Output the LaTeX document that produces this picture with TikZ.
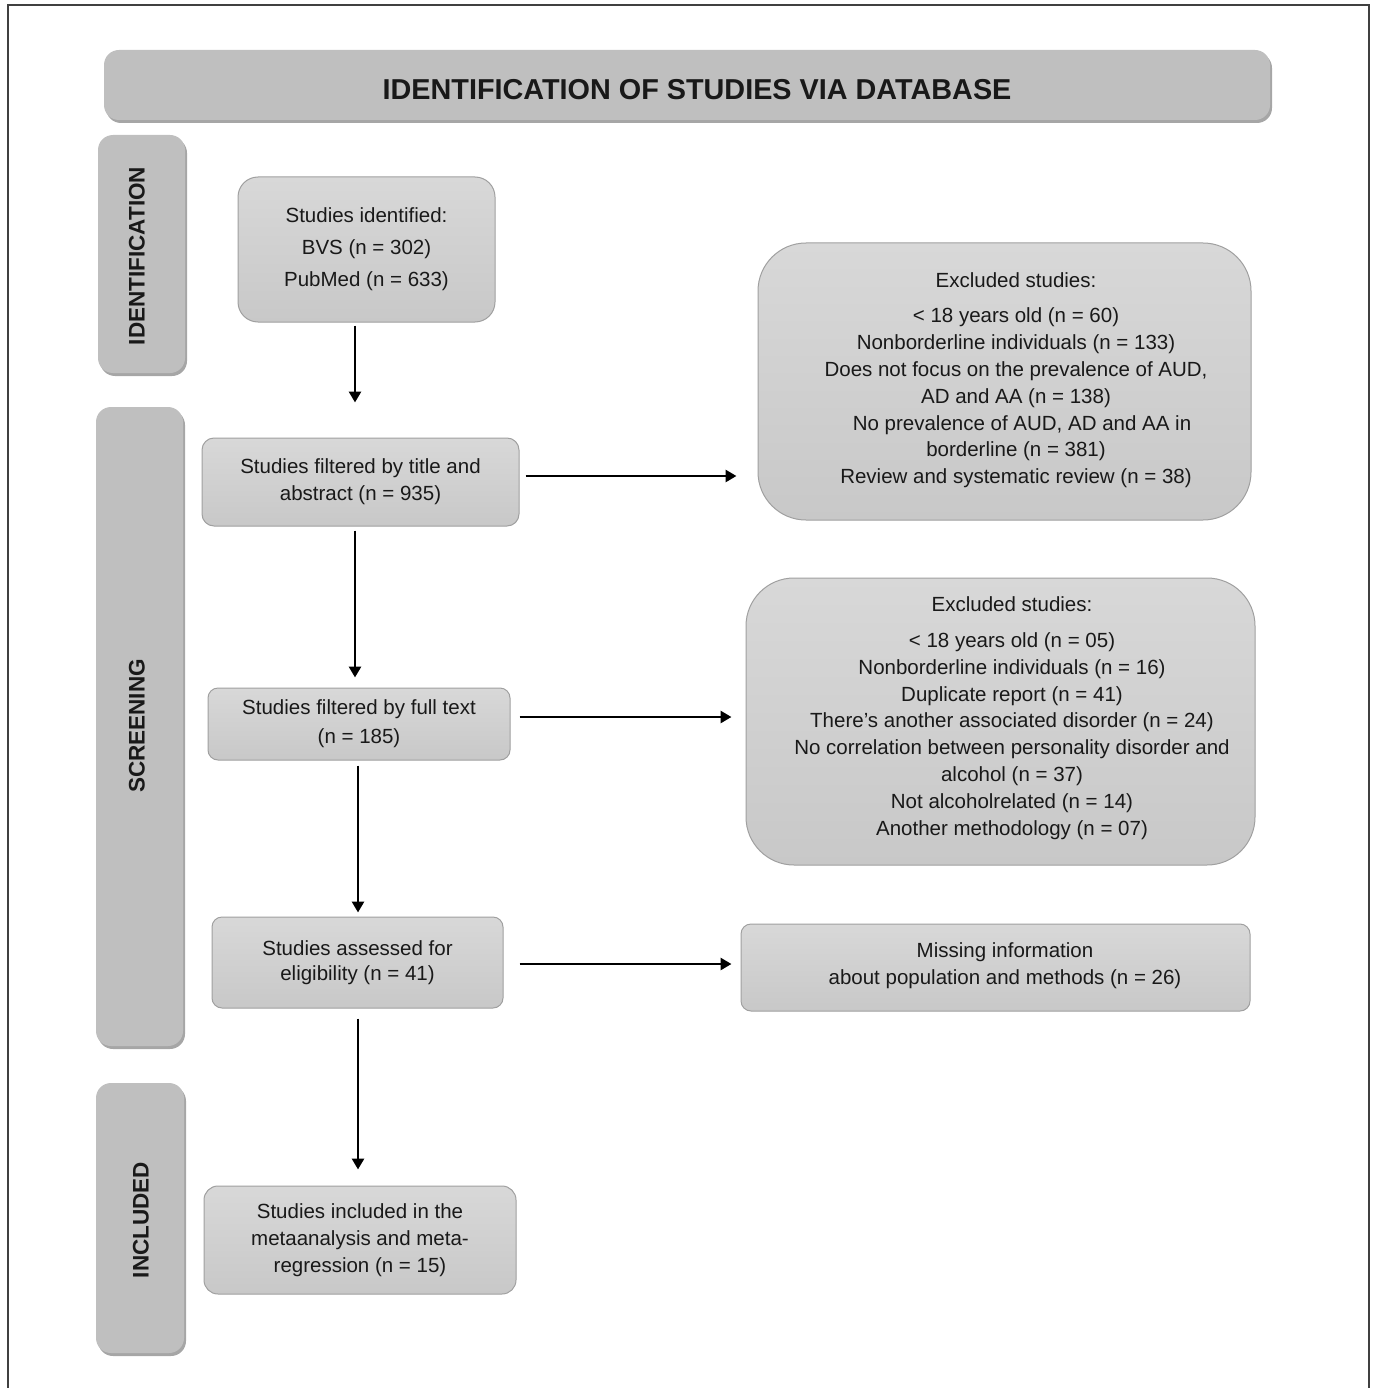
\documentclass[tikz,border=0pt]{standalone}
\usepackage{fontspec}
\setmainfont{Liberation Sans}
\usetikzlibrary{shadows,arrows.meta}
\definecolor{hdrgray}{RGB}{191,191,191}
\definecolor{boxtop}{RGB}{216,216,216}
\definecolor{boxbot}{RGB}{200,200,200}
\definecolor{boxline}{RGB}{160,160,160}
\definecolor{txt}{RGB}{25,25,25}
\tikzset{
  hdr/.style={fill=hdrgray, draw=none, rounded corners=15pt, inner sep=0pt,
    drop shadow={shadow xshift=2pt, shadow yshift=-3pt, opacity=0.35, fill=black}},
  sidelbl/.style={font=\fontsize{22.5}{26}\selectfont\bfseries, text=txt, rotate=90},
  cbox/.style={draw=boxline, line width=1pt, top color=boxtop, bottom color=boxbot,
    inner sep=0pt, align=center, text=txt, font=\fontsize{20.5}{27}\selectfont},
  arr/.style={line width=2.8pt, -{Triangle[length=11pt,width=12pt]}},
}
\begin{document}
\begin{tikzpicture}[x=1pt,y=-1pt]
\useasboundingbox (0,0) rectangle (1375,1388);
% outer frame
\draw[line width=1.5pt, black!75] (8,1388) -- (8,5) -- (1369,5) -- (1369,1388);

% header and side bars
\node[hdr, minimum width=1166pt, minimum height=70pt] (head) at (687,85) {};
\node[font=\fontsize{28.8}{32}\selectfont\bfseries, text=txt] (headt) at (697,90) {IDENTIFICATION OF STUDIES VIA DATABASE};

\node[hdr, minimum width=87pt, minimum height=238pt] (sid) at (141.5,254) {};
\node[sidelbl] (sidt) at (137,256) {IDENTIFICATION};
\node[hdr, minimum width=87pt, minimum height=639pt] (sscr) at (139.5,726.5) {};
\node[sidelbl] (sscrt) at (137,726) {SCREENING};
\node[hdr, minimum width=88pt, minimum height=270pt] (sinc) at (140,1218) {};
\node[sidelbl] (sinct) at (141,1220) {INCLUDED};

% main boxes
\node[cbox, rounded corners=20pt, minimum width=257pt, minimum height=145pt] (b1) at (366.5,249.5)
  {Studies identified:\\[5pt] BVS (n = 302)\\[5pt] PubMed (n = 633)};
\node[cbox, rounded corners=12pt, minimum width=317pt, minimum height=88pt] (b2) at (360.5,482)
  {Studies filtered by title and\\ abstract (n = 935)};
\node[cbox, rounded corners=10pt, minimum width=302pt, minimum height=72pt] (b3) at (359,724)
  {Studies filtered by full text\\[2pt] (n = 185)};
\node[cbox, rounded corners=10pt, minimum width=291pt, minimum height=91pt] (b4) at (357.5,962.5)
  {Studies assessed for\\[-2pt] eligibility (n = 41)};
\node[cbox, rounded corners=14pt, minimum width=312pt, minimum height=108pt] (b5) at (360,1240)
  {Studies included in the\\ metaanalysis and meta-\\ regression (n = 15)};

% excluded boxes
\node[cbox, rounded corners=48pt, minimum width=493pt, minimum height=277pt] (e1) at (1004.5,381.5) {};
\node[align=center, text=txt, font=\fontsize{20.5}{26.8}\selectfont] (e1t) at (1016,380)
  {Excluded studies:\\[9pt]
   {<} 18 years old (n = 60)\\
   Nonborderline individuals (n = 133)\\
   Does not focus on the prevalence of AUD,\\
   AD and AA (n = 138)\\
   \hspace*{12pt}No prevalence of AUD, AD and AA in\\
   borderline (n = 381)\\
   Review and systematic review (n = 38)};

\node[cbox, rounded corners=48pt, minimum width=509pt, minimum height=287pt] (e2) at (1000.5,721.5) {};
\node[align=center, text=txt, font=\fontsize{20.5}{26.8}\selectfont] (e2t) at (1012,718)
  {Excluded studies:\\[9pt]
   {<} 18 years old (n = 05)\\
   Nonborderline individuals (n = 16)\\
   Duplicate report (n = 41)\\
   There’s another associated disorder (n = 24)\\
   No correlation between personality disorder and\\
   alcohol (n = 37)\\
   Not alcoholrelated (n = 14)\\
   Another methodology (n = 07)};

\node[cbox, rounded corners=10pt, minimum width=509pt, minimum height=87pt] (e3) at (995.5,967.5) {};
\node[align=center, text=txt, font=\fontsize{20.5}{27}\selectfont] (e3t) at (1005,965.5)
  {Missing information\\ about population and methods (n = 26)};

% vertical connectors
\draw[arr, shorten <=3pt, shorten >=35pt] ([xshift=-11.5pt]b1.south) -- ([xshift=-11.5pt]b1.south |- b2.north);
\draw[arr, shorten <=4pt, shorten >=10pt] ([xshift=-5.5pt]b2.south) -- ([xshift=-5.5pt]b2.south |- b3.north);
\draw[arr, shorten <=5pt, shorten >=4pt] ([xshift=-1pt]b3.south) -- ([xshift=-1pt]b3.south |- b4.north);
\draw[arr, shorten <=10pt, shorten >=16pt] ([xshift=0.5pt]b4.south) -- ([xshift=0.5pt]b4.south |- b5.north);

% horizontal connectors
\draw[arr, shorten <=6pt, shorten >=21pt] ([yshift=6pt]b2.east) -- ([yshift=6pt]b2.east -| e1.west);
\draw[arr, shorten <=9pt, shorten >=14pt] ([yshift=7pt]b3.east) -- ([yshift=7pt]b3.east -| e2.west);
\draw[arr, shorten <=16pt, shorten >=9pt] ([yshift=-1.5pt]b4.east) -- ([yshift=-1.5pt]b4.east -| e3.west);
\end{tikzpicture}
\end{document}
